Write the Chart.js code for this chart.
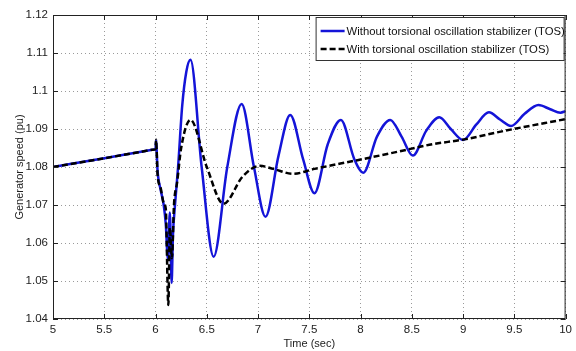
<!DOCTYPE html>
<html>
<head>
<meta charset="utf-8">
<script src="https://cdn.jsdelivr.net/npm/chart.js@4"></script>
<style>
  html, body { margin: 0; padding: 0; background: #fff; }
  #wrap { width: 576px; height: 351px; }
</style>
</head>
<body>
<div id="wrap"><canvas id="speedChart"></canvas></div>
<script>
// values
const timeWithout = [5.0, 5.5, 5.9, 5.99, 6.0, 6.005, 6.02, 6.05, 6.08, 6.10, 6.12, 6.14, 6.157, 6.17, 6.19, 6.22, 6.26, 6.30, 6.341,
  6.45, 6.567, 6.70, 6.84, 6.96, 7.073, 7.20, 7.314, 7.44, 7.55, 7.68, 7.808, 7.94, 8.027, 8.16, 8.29, 8.40,
  8.51, 8.64, 8.768, 8.88, 9.0, 9.13, 9.252, 9.36, 9.468, 9.60, 9.736, 9.85, 9.95, 10.0];
const speedWithout = [1.0800, 1.0823, 1.0842, 1.0846, 1.0847, 1.0870, 1.0790, 1.0740, 1.0700, 1.0650, 1.0560, 1.0680, 1.0495, 1.0620, 1.0700, 1.0800, 1.0960, 1.1050, 1.1082,
  1.0800, 1.0564, 1.0800, 1.0966, 1.0800, 1.0669, 1.0830, 1.0937, 1.0820, 1.0731, 1.0860, 1.0924, 1.0820, 1.0785, 1.0880, 1.0924, 1.0880,
  1.0830, 1.0895, 1.0931, 1.0900, 1.0871, 1.0912, 1.0944, 1.0925, 1.0908, 1.0940, 1.0963, 1.0952, 1.0943, 1.0947];

const timeWith = [5.0, 5.5, 5.9, 5.99, 6.0, 6.005, 6.02, 6.05, 6.08, 6.10, 6.125, 6.14, 6.16, 6.18, 6.21, 6.25, 6.341, 6.50, 6.663,
  6.85, 7.018, 7.15, 7.34, 7.55, 7.97, 8.36, 8.70, 9.0, 9.4, 10.0];
const speedWith = [1.0800, 1.0823, 1.0842, 1.0846, 1.0847, 1.0872, 1.0780, 1.0745, 1.0705, 1.0690, 1.0437, 1.0640, 1.0560, 1.0700, 1.0758, 1.0850, 1.0924, 1.0800, 1.0703,
  1.0775, 1.0803, 1.0795, 1.0782, 1.0795, 1.0818, 1.0840, 1.0860, 1.0872, 1.0895, 1.0926];

const xTicks = [5, 5.5, 6, 6.5, 7, 7.5, 8, 8.5, 9, 9.5, 10];
const yTicks = [1.04, 1.05, 1.06, 1.07, 1.08, 1.09, 1.1, 1.11, 1.12];

const seriesNames = ['Without torsional oscillation stabilizer (TOS)', 'With torsional oscillation stabilizer (TOS)'];

function toPoints(xs, ys) {
  return xs.map((x, i) => ({ x: x, y: ys[i] }));
}

// box, inner ticks and legend like the matlab figure
const frameAndLegend = {
  id: 'frameAndLegend',
  afterDatasetsDraw(chart) {
    const ctx = chart.ctx;
    const area = chart.chartArea;
    const xs = chart.scales.x;
    const ys = chart.scales.y;
    ctx.save();
    ctx.strokeStyle = '#222';
    ctx.lineWidth = 1;
    ctx.strokeRect(area.left + 0.5, area.top + 0.5, area.right - area.left - 1, area.bottom - area.top - 1);
    ctx.beginPath();
    xTicks.forEach(t => {
      const px = Math.round(xs.getPixelForValue(t)) + 0.5;
      ctx.moveTo(px, area.bottom); ctx.lineTo(px, area.bottom - 5);
      ctx.moveTo(px, area.top); ctx.lineTo(px, area.top + 5);
    });
    yTicks.forEach(t => {
      const py = Math.round(ys.getPixelForValue(t)) + 0.5;
      ctx.moveTo(area.left, py); ctx.lineTo(area.left + 5, py);
      ctx.moveTo(area.right, py); ctx.lineTo(area.right - 5, py);
    });
    ctx.stroke();

    // legend
    const bx = area.right - 250, by = area.top + 2, bw = 248, bh = 43;
    ctx.fillStyle = '#fff';
    ctx.fillRect(bx, by, bw, bh);
    ctx.strokeStyle = '#333';
    ctx.strokeRect(bx + 0.5, by + 0.5, bw, bh);
    ctx.font = '11.3px "Liberation Sans", Arial, sans-serif';
    ctx.textBaseline = 'middle';
    ctx.fillStyle = '#111';
    const rows = [by + 14, by + 32];
    chart.data.datasets.forEach((ds, i) => {
      ctx.beginPath();
      ctx.strokeStyle = ds.borderColor;
      ctx.lineWidth = 2.5;
      ctx.setLineDash(ds.borderDash || []);
      ctx.moveTo(bx + 5, rows[i]);
      ctx.lineTo(bx + 29, rows[i]);
      ctx.stroke();
      ctx.setLineDash([]);
      ctx.fillText(ds.label, bx + 31, rows[i] + 0.5);
    });
    ctx.restore();
  }
};

new Chart(document.getElementById('speedChart'), {
  type: 'line',
  data: {
    datasets: [{
      label: seriesNames[0],
      data: toPoints(timeWithout, speedWithout),
      borderColor: '#1414d8',
      borderWidth: 2.5,
      pointRadius: 0,
      cubicInterpolationMode: 'monotone',
      order: 2
    }, {
      label: seriesNames[1],
      data: toPoints(timeWith, speedWith),
      borderColor: '#000',
      borderWidth: 2.5,
      borderDash: [6, 3],
      pointRadius: 0,
      cubicInterpolationMode: 'monotone',
      order: 1
    }]
  },
  options: {
    responsive: true,
    maintainAspectRatio: false,
    animation: false,
    layout: { padding: { top: 15, right: 6, left: 0, bottom: 0 } },
    plugins: {
      legend: { display: false },
      tooltip: { enabled: false }
    },
    scales: {
      x: {
        type: 'linear',
        min: 5,
        max: 10,
        afterBuildTicks: s => { s.ticks = xTicks.map(v => ({ value: v })); },
        afterFit: s => { s.height = 32; },
        grid: { color: '#9a9a9a', lineWidth: 1, drawTicks: false },
        border: { display: false, dash: [1, 3] },
        ticks: {
          padding: 4,
          color: '#222',
          font: { family: '"Liberation Sans", Arial, sans-serif', size: 11.5 },
          callback: v => String(v)
        },
        title: {
          display: true,
          text: 'Time (sec)',
          color: '#222',
          font: { family: '"Liberation Sans", Arial, sans-serif', size: 11 },
          padding: { top: 0, bottom: 0 }
        }
      },
      y: {
        min: 1.04,
        max: 1.12,
        afterBuildTicks: s => { s.ticks = yTicks.map(v => ({ value: v })); },
        afterFit: s => { s.width = 53; },
        grid: { color: '#9a9a9a', lineWidth: 1, drawTicks: false },
        border: { display: false, dash: [1, 3] },
        ticks: {
          padding: 5,
          color: '#222',
          font: { family: '"Liberation Sans", Arial, sans-serif', size: 11.5 },
          callback: v => String(parseFloat(v.toFixed(2)))
        },
        title: {
          display: true,
          text: 'Generator speed (pu)',
          color: '#222',
          font: { family: '"Liberation Sans", Arial, sans-serif', size: 11 },
          padding: { top: 13, bottom: 0 }
        }
      }
    }
  },
  plugins: [frameAndLegend]
});
</script>
</body>
</html>
